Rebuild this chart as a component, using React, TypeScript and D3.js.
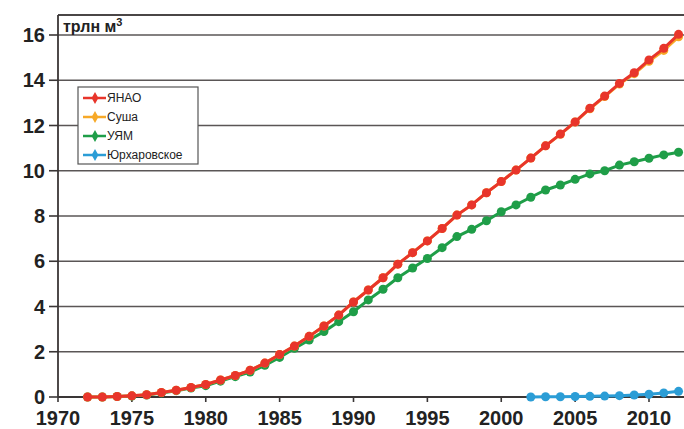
import React from "react";
import * as d3 from "d3";

const years = d3.range(1972, 2013);
const yanao = [0, 0, 0.02, 0.05, 0.1, 0.2, 0.3, 0.42, 0.55, 0.75, 0.95, 1.18, 1.5, 1.88, 2.25, 2.68, 3.14, 3.62, 4.2, 4.73, 5.27, 5.87, 6.38, 6.9, 7.45, 8.04, 8.49, 9.03, 9.52, 10.03, 10.56, 11.1, 11.62, 12.16, 12.76, 13.3, 13.86, 14.33, 14.9, 15.41, 16.03];
const susha = [0, 0, 0.02, 0.05, 0.1, 0.2, 0.3, 0.42, 0.55, 0.75, 0.95, 1.18, 1.5, 1.88, 2.25, 2.68, 3.14, 3.62, 4.2, 4.73, 5.27, 5.87, 6.38, 6.9, 7.45, 8.04, 8.49, 9.03, 9.52, 10.03, 10.56, 11.1, 11.61, 12.15, 12.74, 13.28, 13.83, 14.29, 14.84, 15.32, 15.92];
const yam = [0, 0, 0.02, 0.04, 0.09, 0.18, 0.28, 0.4, 0.5, 0.7, 0.9, 1.1, 1.4, 1.75, 2.15, 2.52, 2.89, 3.33, 3.77, 4.29, 4.76, 5.27, 5.7, 6.12, 6.6, 7.09, 7.41, 7.79, 8.19, 8.49, 8.83, 9.15, 9.37, 9.62, 9.86, 10.0, 10.25, 10.4, 10.55, 10.7, 10.82];
const yurYears = d3.range(2002, 2013);
const yurkh = [0, 0.01, 0.01, 0.02, 0.03, 0.04, 0.06, 0.09, 0.12, 0.18, 0.25];

const xTicks = [1970, 1975, 1980, 1985, 1990, 1995, 2000, 2005, 2010];
const yTicks = [0, 2, 4, 6, 8, 10, 12, 14, 16];
const seriesNames = ["ЯНАО", "Суша", "УЯМ", "Юрхаровское"];
const colors = ["#e8352b", "#f7a928", "#1f9e48", "#2b9dd6"];

export default function App() {
  const W = 684, H = 429;
  const x = d3.scaleLinear().domain([1970, 2010]).range([58, 649]);
  const y = d3.scaleLinear().domain([0, 16]).range([397, 35]);
  const line = d3.line<[number, number]>().x(d => x(d[0])).y(d => y(d[1]));

  const series = [
    { name: seriesNames[3], color: colors[3], xs: yurYears, vs: yurkh },
    { name: seriesNames[2], color: colors[2], xs: years, vs: yam },
    { name: seriesNames[1], color: colors[1], xs: years, vs: susha },
    { name: seriesNames[0], color: colors[0], xs: years, vs: yanao },
  ];

  const font = "'Liberation Sans', Arial, sans-serif";
  const left = x(1970);
  const right = W;

  return (
    <svg width={W} height={H} style={{ position: "absolute", left: 0, top: 0, background: "#fff" }}>
      {yTicks.filter(t => t > 0).map(t => (
        <line key={t} x1={left} x2={right} y1={y(t)} y2={y(t)} stroke="#5a5656" strokeWidth={1.6} />
      ))}
      <line x1={left} x2={right} y1={15} y2={15} stroke="#4a4646" strokeWidth={1.8} />
      <line x1={left} x2={left} y1={15} y2={y(0)} stroke="#3a3636" strokeWidth={1.8} />
      <line x1={left} x2={right} y1={y(0)} y2={y(0)} stroke="#3a3636" strokeWidth={1.8} />
      {yTicks.map(t => (
        <g key={t}>
          <line x1={left - 9} x2={left} y1={y(t)} y2={y(t)} stroke="#3a3636" strokeWidth={1.6} />
          <text x={45} y={y(t)} dy="0.36em" textAnchor="end" fontFamily={font} fontWeight="bold" fontSize={20} fill="#222">{t}</text>
        </g>
      ))}
      {xTicks.map(t => (
        <g key={t}>
          <line x1={x(t)} x2={x(t)} y1={y(0)} y2={y(0) + 5} stroke="#3a3636" strokeWidth={1.6} />
          <text x={x(t)} y={425} textAnchor="middle" fontFamily={font} fontWeight="bold" fontSize={20} fill="#222">{t}</text>
        </g>
      ))}
      <text x={63} y={32} fontFamily={font} fontWeight="bold" fontSize={16} fill="#222">
        трлн м<tspan dy={-6} fontSize={11}>3</tspan>
      </text>
      {series.map(s => {
        const pts: [number, number][] = s.xs.map((yr, i) => [yr, s.vs[i]]);
        return (
          <g key={s.name}>
            <path d={line(pts) || ""} fill="none" stroke={s.color} strokeWidth={3} />
            {pts.map((p, i) => (
              <circle key={i} cx={x(p[0])} cy={y(p[1])} r={4.5} fill={s.color} />
            ))}
          </g>
        );
      })}
      <rect x={78} y={87} width={120} height={77} fill="#fff" stroke="#555" strokeWidth={1.2} />
      {seriesNames.map((n, i) => {
        const ly = 98 + i * 19;
        return (
          <g key={n}>
            <line x1={83} x2={106} y1={ly} y2={ly} stroke={colors[i]} strokeWidth={2.5} />
            <path d={d3.symbol().type(d3.symbolDiamond).size(40)() || ""} transform={`translate(95,${ly})`} fill={colors[i]} />
            <text x={107} y={ly} dy="0.36em" fontFamily={font} fontSize={12} fill="#222">{n}</text>
          </g>
        );
      })}
    </svg>
  );
}
